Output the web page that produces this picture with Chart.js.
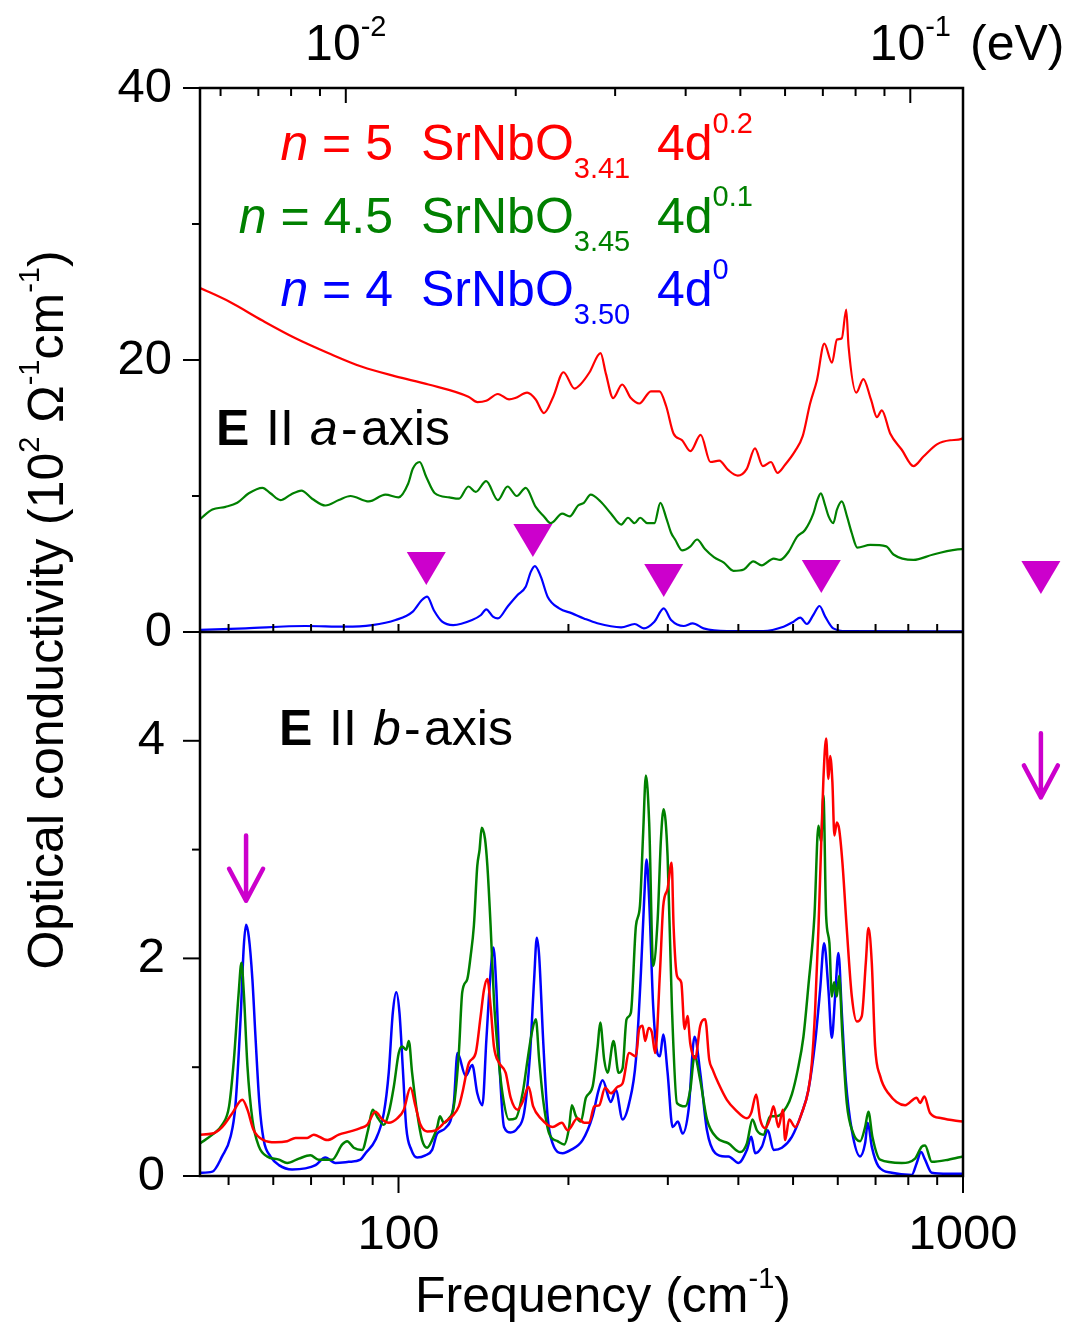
<!DOCTYPE html>
<html>
<head>
<meta charset="utf-8">
<script src="https://cdn.jsdelivr.net/npm/chart.js@4.4.1/dist/chart.umd.min.js"></script>
<style>
  html, body { margin: 0; padding: 0; background: #fff; }
  canvas { display: block; }
</style>
</head>
<body>
<canvas id="sigma" width="1079" height="1326"></canvas>
<script>
// optical conductivity, 10^2 Ohm^-1 cm^-1: [frequency cm^-1, sigma]
// E || a-axis
const aRed = [[44.5,25.3],[50.1,24.3],[57.4,22.9],[65.7,21.6],[75.2,20.5],[86.2,19.5],[98.8,18.8],[113,18.2],[133,17.3],[138,16.9],[143,17.0],[150,17.5],[157,17.1],[161,17.2],[169,17.6],[175,17.1],[181,16.1],[188,17.3],[196,19.1],[205,17.9],[210,18.2],[218,19.1],[228,20.5],[233,19.0],[240,17.2],[249,18.2],[258,17.2],[267,16.8],[280,17.7],[290,17.7],[298,16.6],[307,14.6],[318,14.1],[329,13.3],[343,14.5],[357,12.5],[370,12.6],[384,11.9],[399,11.5],[414,12.0],[428,13.5],[442,12.2],[457,12.5],[469,11.7],[484,12.3],[504,13.3],[520,14.4],[536,16.8],[551,18.5],[568,21.2],[586,19.8],[598,21.5],[610,21.6],[621,23.7],[627,21.0],[647,17.6],[666,18.6],[687,17.1],[704,15.8],[718,16.3],[743,14.6],[779,13.4],[817,12.2],[851,12.9],[899,13.8],[949,14.1],[995,14.2],[1000,14.3]];
const aGreen = [[44.5,8.3],[46.8,9.0],[49.4,9.2],[51.8,9.5],[54.3,10.2],[57.4,10.6],[59.3,10.2],[61.8,9.7],[64.4,10.1],[67.3,10.4],[70.3,9.8],[74.2,9.3],[78.4,9.7],[82.2,10.0],[88.6,9.6],[94.8,10.1],[100,9.9],[104,10.9],[106,12.0],[109,12.5],[112,11.4],[116,10.2],[123,9.9],[128,9.8],[133,10.7],[137,10.3],[143,11.1],[150,9.7],[156,10.7],[162,10.0],[168,10.6],[175,9.2],[181,8.5],[186,8.0],[195,8.7],[201,8.5],[208,9.3],[213,9.5],[219,10.1],[228,9.6],[238,8.7],[248,7.9],[255,8.4],[262,8.0],[268,8.4],[276,8.0],[284,8.0],[291,9.5],[298,8.4],[304,7.3],[309,6.8],[318,6.0],[329,6.3],[338,6.8],[349,6.1],[362,5.5],[377,5.1],[392,4.5],[409,4.6],[425,5.2],[440,4.9],[462,5.4],[474,5.3],[491,5.9],[508,7.0],[525,7.5],[543,8.7],[552,9.7],[560,10.2],[570,9.3],[578,8.5],[589,8.0],[598,9.0],[610,9.6],[623,8.5],[635,7.3],[650,6.2],[685,6.4],[731,6.3],[753,5.7],[817,5.3],[886,5.7],[995,6.1],[1000,6.1]];
const aBlue = [[44.5,0.15],[53.6,0.27],[68.4,0.44],[80.5,0.39],[89.8,0.51],[98.8,0.88],[106,1.5],[110,2.35],[112.4,2.6],[115.5,1.6],[119.5,0.76],[125,0.51],[135,0.88],[140,1.25],[143,1.67],[147,1.13],[150,1.0],[156,1.86],[162.5,2.72],[168,3.33],[171.6,4.44],[174.4,4.85],[178.7,4.07],[183.7,2.6],[192.6,1.74],[203,1.37],[213,1.0],[225,0.64],[248,0.34],[262,0.59],[272,0.27],[284,0.76],[295,1.74],[304,0.88],[320,0.44],[332,0.64],[347,0.27],[382,0.07],[443,0.07],[481,0.39],[501,0.76],[515,1.05],[529,0.59],[543,1.25],[557,1.91],[570,1.13],[589,0.27],[622,0.07],[1000,0.05]];

// E || b-axis
const bRed = [[44.5,0.38],[46.8,0.39],[48.7,0.45],[50.8,0.58],[52.9,0.70],[54.0,0.61],[55.4,0.42],[57.7,0.33],[60.5,0.31],[63.5,0.32],[65.7,0.35],[68.9,0.35],[70.8,0.38],[74.8,0.33],[78.4,0.38],[82.2,0.41],[85.6,0.44],[88.0,0.47],[91.0,0.59],[93.6,0.52],[96.1,0.49],[99.5,0.53],[102.2,0.61],[105,0.81],[107.2,0.64],[109.4,0.47],[112.4,0.41],[116.3,0.42],[121.1,0.50],[124.5,0.55],[127.9,0.64],[129.7,0.76],[133.3,1.04],[137,1.13],[139.8,1.47],[141.7,1.71],[143.7,1.81],[145.6,1.56],[147.6,1.19],[150.7,1.04],[154.8,0.95],[158,0.72],[162.5,0.61],[165.9,0.68],[170,0.82],[173.2,0.64],[178.7,0.53],[187.5,0.45],[194.7,0.49],[199.3,0.42],[207.6,0.53],[213.3,0.49],[217.7,0.49],[222.2,0.64],[226.7,0.65],[232.3,0.81],[237.8,0.76],[244.4,0.82],[249.4,0.85],[256.2,1.13],[263.4,1.10],[266.9,1.35],[270.6,1.38],[273.5,1.24],[277.4,1.36],[281.1,1.32],[284.9,1.13],[290.5,1.87],[294.4,2.48],[299.7,2.64],[304.7,2.88],[307.1,2.30],[311.4,1.84],[316.9,1.78],[321.2,1.35],[325.1,1.47],[328.7,1.22],[335.5,1.08],[342.4,1.38],[349.4,1.44],[355.2,1.07],[360,0.98],[368.9,0.85],[381.7,0.70],[394.9,0.61],[414.2,0.53],[421.5,0.58],[430.2,0.75],[437.2,0.52],[446.2,0.44],[455.4,0.53],[461.6,0.64],[471.1,0.45],[479.6,0.61],[484.1,0.33],[492.1,0.52],[504.3,0.45],[518.2,0.58],[532.3,0.79],[539.8,1.04],[547.1,1.53],[554.5,2.27],[560.6,3.03],[565.9,3.65],[572.2,4.02],[577.6,3.65],[581.6,3.86],[587,3.62],[591.8,3.13],[597.7,3.25],[603.3,3.19],[611.5,2.88],[622.5,2.27],[635.4,1.65],[648.5,1.42],[661.8,1.47],[672.7,1.96],[679.9,2.28],[689.3,1.96],[698.7,1.19],[713.1,0.92],[737.6,0.76],[789.6,0.65],[828.1,0.72],[839.3,0.67],[854.2,0.73],[874.2,0.58],[917,0.53],[1000,0.50]];
const bGreen = [[44.5,0.30],[46.8,0.38],[48.7,0.47],[50.1,0.64],[51.1,1.07],[52.1,1.68],[52.7,1.96],[53.2,1.69],[54.0,1.01],[55.1,0.52],[56.6,0.27],[58.5,0.18],[61.4,0.15],[63.5,0.12],[66.6,0.16],[69.8,0.19],[72.2,0.15],[76.3,0.15],[79.5,0.29],[81.1,0.32],[83.3,0.26],[86.2,0.24],[88.3,0.42],[90.0,0.61],[92.0,0.53],[94.2,0.47],[96.1,0.58],[98.1,0.82],[100.1,1.13],[101.5,1.19],[103.2,1.16],[104.3,1.24],[105.7,0.95],[107.9,0.58],[110.1,0.33],[112.4,0.26],[114.7,0.33],[117.1,0.45],[118.4,0.55],[120.3,0.49],[122.8,0.53],[125.3,0.64],[127.9,1.13],[129.7,1.69],[132.4,1.81],[134.2,2.02],[136,2.30],[137.9,2.85],[139.2,3.00],[140.4,3.20],[142.3,3.10],[143.7,2.85],[145.6,2.30],[147.6,1.62],[149.7,1.19],[152.8,0.76],[156.9,0.52],[161.3,0.53],[165.9,0.76],[169.3,1.07],[172.3,1.32],[175.1,1.44],[177.5,1.07],[180.4,0.70],[184.9,0.39],[191.3,0.32],[196.6,0.29],[200.6,0.45],[202.8,0.65],[206.2,0.55],[210.4,0.50],[214.8,0.72],[220.7,0.82],[225.3,1.19],[227.7,1.41],[231.4,1.07],[234.6,0.95],[240.4,1.24],[245.4,0.95],[249.4,0.99],[253.5,1.44],[258,1.50],[263.4,2.30],[267.7,2.48],[271.3,3.16],[274.3,3.68],[278,3.25],[282.6,1.93],[287.8,2.36],[291.7,3.10],[294.9,3.37],[299.7,2.94],[305,1.56],[311.4,0.67],[322.1,0.64],[328.7,0.79],[334.5,1.10],[342.4,0.88],[351.9,0.52],[366.5,0.35],[384.2,0.30],[403,0.22],[414.2,0.30],[423.7,0.52],[431.4,0.42],[443.1,0.38],[455.4,0.55],[468,0.55],[487.5,0.64],[497.5,0.75],[509.8,0.98],[521.6,1.28],[532.3,1.75],[545.5,2.39],[554.5,3.22],[560.6,3.07],[565.9,3.50],[572.2,2.39],[579.9,2.14],[585.6,1.65],[591.1,1.78],[597.7,1.65],[603.3,1.84],[611.5,1.28],[622.5,0.67],[639.5,0.39],[657.2,0.32],[670.8,0.45],[679.9,0.59],[691,0.36],[713.1,0.15],[779,0.12],[822.4,0.16],[845.2,0.27],[856.6,0.28],[880.3,0.13],[942,0.15],[1000,0.18]];
const bBlue = [[44.5,0.03],[46.8,0.04],[48.7,0.18],[50.4,0.36],[51.4,0.64],[52.5,1.44],[53.2,2.11],[53.7,2.31],[54.3,2.20],[55.1,1.81],[55.8,1.28],[56.7,0.67],[57.7,0.33],[59.3,0.18],[61.4,0.10],[64.8,0.06],[68.4,0.07],[71.3,0.10],[74.2,0.17],[77.3,0.12],[81.6,0.13],[85.6,0.15],[87.4,0.21],[91.0,0.33],[94.2,0.58],[96.1,0.95],[97.7,1.50],[99.1,1.69],[100.4,1.50],[101.8,0.98],[103.2,0.45],[105.4,0.24],[107.9,0.17],[111.6,0.19],[114.7,0.24],[117.1,0.39],[121.1,0.44],[125.3,0.67],[127.2,1.13],[131.5,0.92],[135.1,1.02],[137.9,0.76],[140.8,0.65],[143.1,1.25],[145.6,1.87],[147.3,2.10],[149.1,1.71],[150.7,1.10],[153.8,0.45],[158,0.40],[162.5,0.44],[166.9,0.58],[170.9,1.10],[173.9,1.81],[175.8,2.19],[177.5,2.02],[180.4,1.25],[183.7,0.55],[187.5,0.30],[195.3,0.21],[202,0.24],[211.9,0.33],[220.7,0.55],[226.2,0.79],[229.9,0.88],[237.8,0.68],[242.7,0.79],[249.4,0.52],[256.2,0.67],[263.4,1.07],[268.8,1.87],[272.4,2.54],[275.1,2.91],[278,2.54],[282.6,1.56],[287.8,1.12],[290.5,1.10],[294.4,1.30],[299.7,0.95],[305.9,0.45],[312.6,0.50],[318.6,0.39],[326.5,0.61],[334.5,1.28],[342.4,0.95],[351.9,0.42],[364,0.21],[379.1,0.18],[384.2,0.18],[400.2,0.12],[414.2,0.24],[421.5,0.36],[428.4,0.21],[440.3,0.27],[451.2,0.42],[461.6,0.24],[477.7,0.26],[497.5,0.36],[518.2,0.58],[532.3,0.79],[547.1,1.23],[558.3,1.71],[567.5,2.14],[577.6,1.71],[585.6,1.27],[593.5,1.65],[601.6,2.05],[610,1.50],[620,0.88],[635.4,0.42],[657.2,0.18],[670.8,0.30],[678.2,0.49],[689.3,0.27],[708.1,0.09],[747.9,0.03],[811.4,0.01],[828.1,0.12],[842.8,0.22],[856.6,0.15],[880.3,0.03],[942,0.02],[1000,0.02]];

// phonon markers: triangles in the a-axis panel (tip value), arrows in the b-axis panel
const triFreq = [112, 173, 295, 561, 1374];
const triTip = [3.46, 5.51, 2.57, 2.87, 2.79];
const arrowFreq = [53.7, 1374];
const arrowTip = [2.53, 3.48];
const arrowTail = [3.13, 4.07];

// samples
const nLabels = ['5', '4.5', '4'];
const oxyLabels = ['3.41', '3.45', '3.50'];
const dLabels = ['0.2', '0.1', '0'];

// ticks
const freqMajor = [100, 1000];
const freqMinor = [50, 60, 70, 80, 90, 200, 300, 400, 500, 600, 700, 800, 900];
const eVMajor = [0.01, 0.1];
const eVMinor = [0.006, 0.007, 0.008, 0.009, 0.02, 0.03, 0.04, 0.05, 0.06, 0.07, 0.08, 0.09];
const aMajor = [0, 20, 40];
const aMinor = [10, 30];
const bMajor = [0, 2, 4];
const bMinor = [1, 3];

const CM_TO_EV = 1.23984e-4;
const F_MIN = 44.5, F_MAX = 1000;
const FONT = "'Liberation Sans', Arial, Helvetica, sans-serif";
const RED = '#ff0000', GREEN = '#008000', BLUE = '#0000ff', MAGENTA = '#cc00cc';
const COLORS = [RED, GREEN, BLUE];

function pts(rows) {
  return rows.map(r => ({ x: r[0], y: r[1] }));
}

function curve(rows, color, axis, width) {
  return { data: pts(rows), borderColor: color, yAxisID: axis, borderWidth: width };
}

// draw a run of text pieces: [text, size, style, dy]
function runs(c, parts, x, y, align) {
  let total = 0;
  const widths = parts.map(p => {
    c.font = (p[2] || '') + ' ' + p[1] + 'px ' + FONT;
    const w = c.measureText(p[0]).width;
    total += w;
    return w;
  });
  let cx = align === 'center' ? x - total / 2 : align === 'right' ? x - total : x;
  parts.forEach((p, i) => {
    c.font = (p[2] || '') + ' ' + p[1] + 'px ' + FONT;
    c.fillText(p[0], cx, y + (p[3] || 0));
    cx += widths[i];
  });
}

const M = 50, S = 29, UP = -24;

const decor = {
  id: 'decor',
  afterDraw(chart) {
    const c = chart.ctx;
    const { x, xTop, yTop, yBot } = chart.scales;
    const A = chart.chartArea;
    const yMid = yTop.getPixelForValue(0);

    c.save();
    c.strokeStyle = '#000';
    c.lineWidth = 2.5;
    c.strokeRect(A.left, A.top, A.right - A.left, A.bottom - A.top);
    c.beginPath();
    c.moveTo(A.left, yMid);
    c.lineTo(A.right, yMid);
    c.stroke();

    c.lineWidth = 2;
    const vt = (scale, vals, y0, len) => vals.forEach(v => {
      const px = scale.getPixelForValue(v);
      c.beginPath(); c.moveTo(px, y0); c.lineTo(px, y0 + len); c.stroke();
    });
    const ht = (scale, vals, x0, len) => vals.forEach(v => {
      const py = scale.getPixelForValue(v);
      c.beginPath(); c.moveTo(x0, py); c.lineTo(x0 + len, py); c.stroke();
    });
    vt(x, freqMajor, A.bottom, 17);
    vt(x, freqMinor, A.bottom, 9);
    vt(x, freqMajor.concat(freqMinor), yMid, -8);
    vt(xTop, eVMajor, A.top, 15);
    vt(xTop, eVMinor, A.top, 8);
    ht(yTop, aMajor, A.left, -17);
    ht(yTop, aMinor, A.left, -8);
    ht(yBot, bMajor, A.left, -17);
    ht(yBot, bMinor, A.left, -8);

    // text
    c.fillStyle = '#000';
    c.textAlign = 'left';
    c.textBaseline = 'alphabetic';
    runs(c, [['10', M], ['-2', S, '', UP]], xTop.getPixelForValue(0.01), 60, 'center');
    runs(c, [['10', M], ['-1', S, '', UP]], xTop.getPixelForValue(0.1), 60, 'center');
    runs(c, [['(eV)', M]], 970, 60, 'left');
    runs(c, [['Frequency (cm', M], ['-1', S, '', UP], [')', M]], 603, 1312, 'center');

    c.save();
    c.translate(63, 610);
    c.rotate(-Math.PI / 2);
    runs(c, [['Optical conductivity (10', M], ['2', S, '', UP], [' \u03A9', M], ['-1', S, '', UP],
             ['cm', M], ['-1', S, '', UP], [')', M]], 0, 0, 'center');
    c.restore();

    // sample legend
    const base = [160, 233, 306];
    nLabels.forEach((n, i) => {
      c.fillStyle = COLORS[i];
      runs(c, [['n', M, 'italic'], [' = ' + n, M]], 393, base[i], 'right');
      runs(c, [['SrNbO', M], [oxyLabels[i], S, '', 18]], 421, base[i], 'left');
      runs(c, [['4d', M], [dLabels[i], S, '', -27]], 657, base[i], 'left');
    });

    // panel labels
    c.fillStyle = '#000';
    const axisLabel = (letter, x0, y0) => {
      runs(c, [['E', 50, 'bold']], x0, y0, 'left');
      runs(c, [['II', 50]], x0 + 50, y0, 'left');
      runs(c, [[letter, 50, 'italic']], x0 + 94, y0, 'left');
      runs(c, [['-', 50]], x0 + 125, y0, 'left');
      runs(c, [['axis', 50]], x0 + 145, y0, 'left');
    };
    axisLabel('a', 216, 445);
    axisLabel('b', 279, 745);

    // markers
    c.fillStyle = MAGENTA;
    triFreq.forEach((f, i) => {
      const px = x.getPixelForValue(f), py = yTop.getPixelForValue(triTip[i]);
      c.beginPath();
      c.moveTo(px, py);
      c.lineTo(px - 19.5, py - 33);
      c.lineTo(px + 19.5, py - 33);
      c.closePath();
      c.fill();
    });
    c.strokeStyle = MAGENTA;
    c.lineWidth = 4.5;
    c.lineCap = 'round';
    c.lineJoin = 'round';
    arrowFreq.forEach((f, i) => {
      const px = x.getPixelForValue(f);
      const tip = yBot.getPixelForValue(arrowTip[i]);
      const tail = yBot.getPixelForValue(arrowTail[i]);
      c.beginPath();
      c.moveTo(px, tail); c.lineTo(px, tip);
      c.moveTo(px - 17, tip - 32); c.lineTo(px, tip); c.lineTo(px + 17, tip - 32);
      c.stroke();
    });
    c.restore();
  }
};

const tickFont = { family: FONT, size: 49 };

new Chart(document.getElementById('sigma'), {
  type: 'line',
  data: {
    datasets: [
      curve(aRed, RED, 'yTop', 2.2),
      curve(aGreen, GREEN, 'yTop', 2.2),
      curve(aBlue, BLUE, 'yTop', 2.2),
      curve(bRed, RED, 'yBot', 2.5),
      curve(bGreen, GREEN, 'yBot', 2.5),
      curve(bBlue, BLUE, 'yBot', 2.5)
    ]
  },
  options: {
    responsive: false,
    animation: false,
    events: [],
    layout: { padding: { left: 0, right: 116, top: 0, bottom: 0 } },
    elements: {
      point: { radius: 0 },
      line: { cubicInterpolationMode: 'monotone', fill: false }
    },
    plugins: { legend: { display: false }, tooltip: { enabled: false } },
    scales: {
      x: {
        type: 'logarithmic', position: 'bottom', min: F_MIN, max: F_MAX,
        grid: { display: false }, border: { display: false },
        afterBuildTicks: s => { s.ticks = freqMajor.map(v => ({ value: v })); },
        afterFit: s => { s.height = 150; },
        ticks: { font: tickFont, color: '#000', padding: 22, maxRotation: 0, autoSkip: false,
                 callback: v => String(v) }
      },
      xTop: {
        type: 'logarithmic', position: 'top', min: F_MIN * CM_TO_EV, max: F_MAX * CM_TO_EV,
        grid: { display: false }, border: { display: false }, ticks: { display: false },
        afterFit: s => { s.height = 88; }
      },
      yTop: {
        type: 'linear', position: 'left', stack: 'panels', stackWeight: 1, weight: 1,
        min: 0, max: 40,
        grid: { display: false }, border: { display: false },
        afterBuildTicks: s => { s.ticks = aMajor.map(v => ({ value: v })); },
        afterFit: s => { s.width = 200; },
        ticks: { font: tickFont, color: '#000', padding: 20 }
      },
      yBot: {
        type: 'linear', position: 'left', stack: 'panels', stackWeight: 1, weight: 0,
        min: 0, max: 5,
        grid: { display: false }, border: { display: false },
        afterBuildTicks: s => { s.ticks = bMajor.map(v => ({ value: v })); },
        afterFit: s => { s.width = 200; },
        ticks: { font: tickFont, color: '#000', padding: 27 }
      }
    }
  },
  plugins: [decor]
});
</script>
</body>
</html>
